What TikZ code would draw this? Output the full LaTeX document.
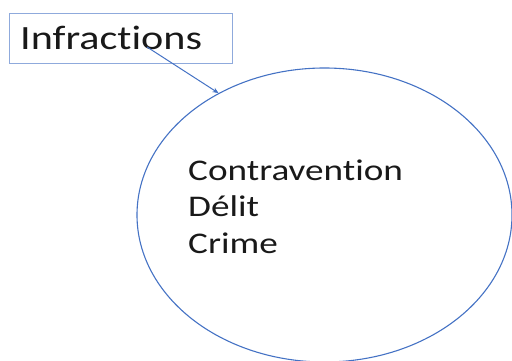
\documentclass[tikz,border=0pt]{standalone}
\usepackage{fontspec}
\setmainfont{Carlito}
\newfontfamily\widefont[FakeStretch=1.24,Ligatures=NoCommon]{Carlito}
\usetikzlibrary{positioning,arrows.meta,shapes.geometric}
\definecolor{officeblue}{RGB}{68, 114, 196}
\definecolor{paleblue}{RGB}{143, 170, 220}
\colorlet{textblack}{black!90}

\begin{document}
\begin{tikzpicture}[
    x=1pt, y=-1pt,
    >={Stealth[length=6pt,width=5pt]},
    % Title box style
    titlebox/.style={
        draw=paleblue,
        line width=1pt,
        rectangle,
        anchor=north west,
        minimum width=223pt,
        minimum height=50pt,
        inner sep=0pt
    },
    titletext/.style={
        anchor=base west,
        inner sep=0pt,
        text=textblack,
        font=\widefont\fontsize{34}{40}\selectfont
    },
    % Category ellipse style
    catellipse/.style={
        draw=officeblue,
        line width=1.1pt,
        ellipse,
        inner sep=0pt,
        minimum width=375pt,
        minimum height=294pt
    },
    listtext/.style={
        align=left,
        anchor=north west,
        inner sep=0pt,
        text=textblack,
        font=\widefont\fontsize{30}{36.5}\selectfont
    },
    linkarrow/.style={
        ->,
        draw=officeblue,
        line width=1pt
    }
]

    % =========================================================================
    % 1. CANVAS
    % =========================================================================
    \useasboundingbox (0,0) rectangle (512,361);
    \clip (0,0) rectangle (512,361);

    % =========================================================================
    % 2. TITLE BOX
    % =========================================================================
    \node[titlebox] (infractions) at (9,13) {};
    \node[titletext] (infractions_label) at (20,50) {Infractions};

    % =========================================================================
    % 3. ELLIPSE WITH CATEGORIES
    % =========================================================================
    \node[catellipse] (categories) at (324.5,215) {};
    \node[listtext] (category_list) at (188,159.5) {
        Contravention\\
        Délit\\
        Crime
    };

    % =========================================================================
    % 4. CONNECTOR
    % =========================================================================
    \coordinate (arrow_start) at (147,47);
    \draw[linkarrow] (arrow_start) -- (categories.131);

\end{tikzpicture}
\end{document}
